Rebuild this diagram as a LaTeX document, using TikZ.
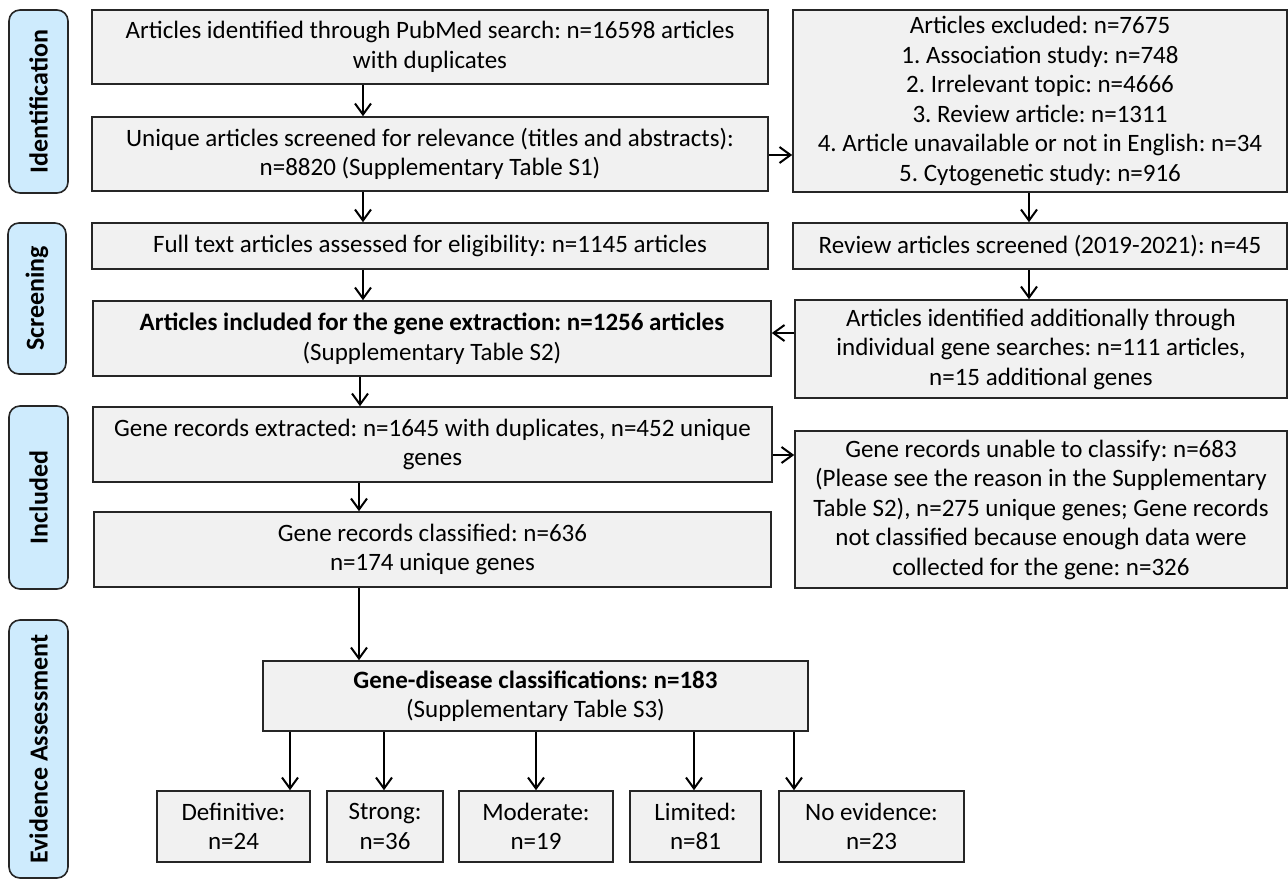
\documentclass[tikz,border=0pt]{standalone}
\usepackage{fontspec}
\setmainfont{Carlito}
\usetikzlibrary{arrows.meta}
\definecolor{boxfill}{RGB}{241,241,241}
\definecolor{boxline}{RGB}{38,38,38}
\definecolor{labfill}{RGB}{206,235,253}
\tikzset{
  box/.style={draw=boxline, line width=1.6pt, fill=boxfill, inner sep=0pt, align=center,
    font=\fontsize{25}{29.5}\selectfont},
  phase/.style={draw=boxline, line width=1.6pt, fill=labfill, rounded corners=11pt, inner sep=0pt,
    rotate=90, font=\fontsize{26}{30}\selectfont\bfseries},
  arr/.style={line width=2pt, draw=black, -{Straight Barb[length=11pt,width=16pt]}},
}
\begin{document}
\frenchspacing
\begin{tikzpicture}[x=1pt,y=-1pt]
\useasboundingbox (0,0) rectangle (1288,879);
% phase labels
\node[phase, minimum width=183, minimum height=59] (pid) at (38.5,101.5) {Identification};
\node[phase, minimum width=151, minimum height=58] (psc) at (37,298.5) {Screening};
\node[phase, minimum width=183, minimum height=59] (pin) at (38.5,497.5) {Included};
\node[phase, minimum width=258, minimum height=59] (pev) at (38.5,749) {Evidence Assessment};
% main column
\node[box, minimum width=676, minimum height=74] (b1) at (430,47) {Articles identified through PubMed search: n=16598 articles\\ with duplicates};
\node[box, minimum width=676, minimum height=74] (b2) at (430,154) {Unique articles screened for relevance (titles and abstracts):\\ n=8820 (Supplementary Table S1)};
\node[box, minimum width=676, minimum height=46] (b3) at (430,246) {Full text articles assessed for eligibility: n=1145 articles};
\node[box, minimum width=678, minimum height=75] (b4) at (432,338.5) {\textbf{Articles included for the gene extraction: n=1256 articles}\\ (Supplementary Table S2)};
\node[box, minimum width=679, minimum height=75] (b5) at (432.5,444.5) {Gene records extracted: n=1645 with duplicates, n=452 unique\\ genes};
\node[box, minimum width=677, minimum height=75] (b6) at (432.5,549.5) {Gene records classified: n=636\\ n=174 unique genes};
% right column
\node[box, minimum width=494, minimum height=182] (excl) at (1040,101) {Articles excluded: n=7675\\ 1. Association study: n=748\\ 2. Irrelevant topic: n=4666\\ 3. Review article: n=1311\\ 4. Article unavailable or not in English: n=34\\ 5. Cytogenetic study: n=916};
\node[box, minimum width=494, minimum height=46] (rev) at (1040,246) {Review articles screened (2019-2021): n=45};
\node[box, minimum width=492, minimum height=98] (addl) at (1041,349) {Articles identified additionally through\\ individual gene searches: n=111 articles,\\ n=15 additional genes};
\node[box, minimum width=492, minimum height=157] (unab) at (1041,509.5) {Gene records unable to classify: n=683\\ (Please see the reason in the Supplementary\\ Table S2), n=275 unique genes; Gene records\\ not classified because enough data were\\ collected for the gene: n=326};
% evidence
\node[box, minimum width=545, minimum height=70] (gd) at (535.5,696) {\textbf{Gene-disease classifications: n=183}\\ (Supplementary Table S3)};
\node[box, minimum width=153, minimum height=71] (def) at (233.5,826.5) {Definitive:\\ n=24};
\node[box, minimum width=116, minimum height=71] (str) at (385,826.5) {Strong:\\ n=36};
\node[box, minimum width=154, minimum height=71] (mod) at (536,826.5) {Moderate:\\ n=19};
\node[box, minimum width=131, minimum height=71] (lim) at (695.5,826.5) {Limited:\\ n=81};
\node[box, minimum width=185, minimum height=71] (noe) at (871.5,826.5) {No evidence:\\ n=23};
% helper coordinates
\coordinate (xa) at (363,0);
\coordinate (xb) at (360,0);
\coordinate (xc) at (359,0);
\coordinate (xr) at (1029,0);
\coordinate (ya) at (0,155);
\coordinate (yb) at (0,333);
\coordinate (yc) at (0,455);
\coordinate (x1) at (290,0);
\coordinate (x2) at (384,0);
\coordinate (x3) at (536,0);
\coordinate (x4) at (694,0);
\coordinate (x5) at (794,0);
% connectors
\draw[arr] (b1.south -| xa) -- (b2.north -| xa);
\draw[arr] (b2.south -| xa) -- (b3.north -| xa);
\draw[arr] (b3.south -| xa) -- (b4.north -| xa);
\draw[arr] (b4.south -| xb) -- (b5.north -| xb);
\draw[arr] (b5.south -| xc) -- (b6.north -| xc);
\draw[arr] (b6.south -| xc) -- (gd.north -| xc);
\draw[arr] (b2.east |- ya) -- (excl.west |- ya);
\draw[arr] (excl.south -| xr) -- (rev.north -| xr);
\draw[arr] (rev.south -| xr) -- (addl.north -| xr);
\draw[arr] (addl.west |- yb) -- (b4.east |- yb);
\draw[arr] (b5.east |- yc) -- (unab.west |- yc);
\draw[arr] (gd.south -| x1) -- (def.north -| x1);
\draw[arr] (gd.south -| x2) -- (str.north -| x2);
\draw[arr] (gd.south -| x3) -- (mod.north -| x3);
\draw[arr] (gd.south -| x4) -- (lim.north -| x4);
\draw[arr] (gd.south -| x5) -- (noe.north -| x5);
\end{tikzpicture}
\end{document}
